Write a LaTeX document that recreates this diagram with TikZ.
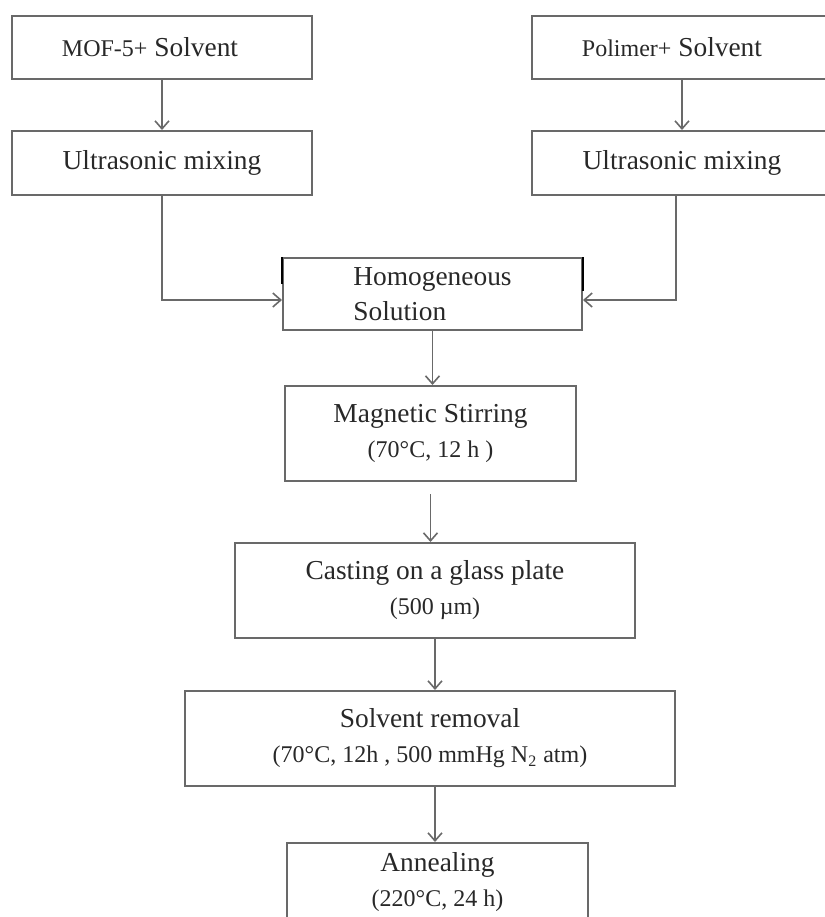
\documentclass[tikz,border=0pt]{standalone}
\usepackage{fontspec}
\setmainfont{Liberation Serif}
\usetikzlibrary{arrows.meta}
\definecolor{linegray}{RGB}{105,105,105}
\definecolor{textgray}{RGB}{40,40,40}

\tikzset{
  stage/.style={draw=linegray, line width=1pt, align=center, inner sep=0pt,
    text=textgray, font=\fontsize{13.7}{17.5}\selectfont},
  flow/.style={-{Straight Barb[length=4pt,width=7pt]}, draw=linegray, line width=0.8pt},
}
\newcommand{\cond}[1]{{\fontsize{12}{14}\selectfont #1}}

\begin{document}
\begin{tikzpicture}[x=0.5pt,y=-0.5pt]
\useasboundingbox (0,0) rectangle (825,917);

% two starting branches
\node[stage, minimum width=150pt, minimum height=31.5pt] (mof) at (162,47.5) {\cond{MOF-5+} Solvent\hspace*{12pt}};
\node[stage, minimum width=150pt, minimum height=32pt] (ultraL) at (162,163) {Ultrasonic mixing};
\node[stage, minimum width=150pt, minimum height=31.5pt] (pol) at (682,47.5) {\cond{Polimer+} Solvent\hspace*{10pt}};
\node[stage, minimum width=150pt, minimum height=32pt] (ultraR) at (682,163) {Ultrasonic mixing};

% main line
\node[stage, align=left, minimum width=149.5pt, minimum height=36pt] (homog) at (432.5,294) {Homogeneous\\Solution};
\node[stage, minimum width=145.5pt, minimum height=47.5pt] (magnet) at (430.5,433.5) {Magnetic Stirring\\\cond{(70°C, 12 h )}};
\node[stage, minimum width=200pt, minimum height=47.5pt] (casting) at (435,590.5) {Casting on a glass plate\\\cond{(500 µm)}};
\node[stage, minimum width=245pt, minimum height=47.5pt] (solvent) at (430,738.5) {Solvent removal\\\cond{(70°C, 12h , 500 mmHg N\textsubscript{2} atm)}};
\node[stage, text depth=11pt, minimum width=150.5pt, minimum height=47.5pt] (anneal) at (437.5,890.5) {Annealing\\\cond{(220°C, 24 h)}};

\draw[line width=1pt] (homog.north west) -- ++(0,27);
\draw[line width=1pt] (homog.north east) -- ++(0,34);

\draw[flow] (mof) -- (ultraL);
\draw[flow] (pol) -- (ultraR);
\draw[flow] (ultraL.south) |- ([yshift=-3pt]homog.west);
\draw[flow] ([xshift=-3pt]ultraR.south) |- ([yshift=-3pt]homog.east);
\draw[flow] (homog) -- (homog |- magnet.north);
\draw[flow, shorten <=6pt] (magnet) -- (magnet |- casting.north);
\draw[flow] (casting) -- (casting |- solvent.north);
\draw[flow] (casting |- solvent.south) -- (casting |- anneal.north);

\end{tikzpicture}
\end{document}
